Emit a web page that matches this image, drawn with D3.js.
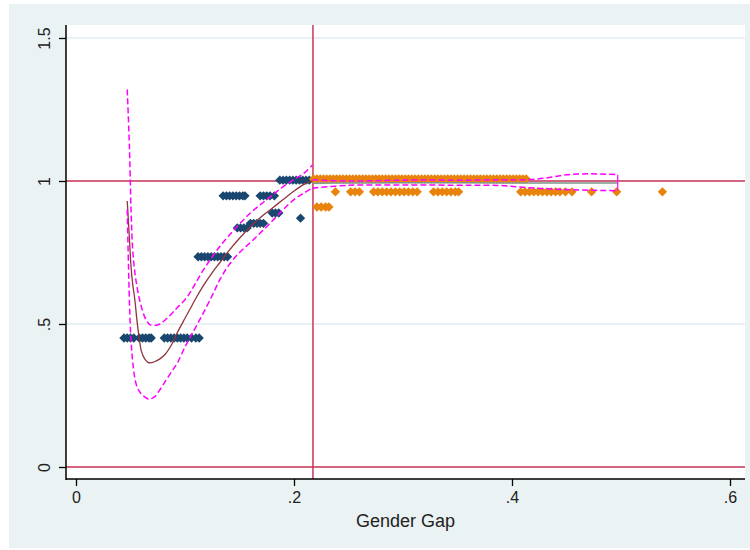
<!DOCTYPE html>
<html>
<head>
<meta charset="utf-8">
<script src="https://cdn.jsdelivr.net/npm/d3@7"></script>
<style>
  body { margin: 0; background: #fff; }
  text { font-family: "Liberation Sans", Arial, sans-serif; fill: #222; }
</style>
</head>
<body>
<svg id="chart"></svg>
<script>
// tick labels
const xTicks = [0, 0.2, 0.4, 0.6];
const xTickLabels = ["0", ".2", ".4", ".6"];
const yTicks = [0, 0.5, 1, 1.5];
const yTickLabels = ["0", ".5", "1", "1.5"];
const cutoff = 0.2174;

// navy points (below the cutoff)
const navyX = [0.044, 0.047, 0.050, 0.053, 0.058, 0.061, 0.064, 0.067, 0.069,
  0.081, 0.084, 0.087, 0.090, 0.093, 0.096, 0.099, 0.102, 0.106, 0.110, 0.113,
  0.112, 0.115, 0.118, 0.121, 0.124, 0.127, 0.130, 0.133, 0.136, 0.139,
  0.148, 0.151, 0.154, 0.157, 0.160, 0.163, 0.166, 0.169, 0.172,
  0.180, 0.183, 0.186,
  0.206,
  0.135, 0.138, 0.141, 0.144, 0.147, 0.150, 0.153, 0.155, 0.169, 0.172, 0.175, 0.178, 0.182,
  0.187, 0.190, 0.193, 0.196, 0.199, 0.202, 0.205, 0.208, 0.211, 0.214];
const navyY = [0.451, 0.451, 0.451, 0.451, 0.451, 0.451, 0.451, 0.451, 0.451,
  0.451, 0.451, 0.451, 0.451, 0.451, 0.451, 0.451, 0.451, 0.451, 0.451, 0.451,
  0.735, 0.735, 0.735, 0.735, 0.735, 0.735, 0.735, 0.735, 0.735, 0.735,
  0.836, 0.836, 0.836, 0.836, 0.852, 0.852, 0.852, 0.852, 0.852,
  0.888, 0.888, 0.888,
  0.870,
  0.948, 0.948, 0.948, 0.948, 0.948, 0.948, 0.948, 0.948, 0.948, 0.948, 0.948, 0.948, 0.948,
  1.003, 1.003, 1.003, 1.003, 1.003, 1.003, 1.003, 1.003, 1.003, 1.003];

// orange points (above the cutoff)
const orangeTopX = [0.218, 0.221, 0.224, 0.227, 0.230, 0.233, 0.236, 0.239, 0.242, 0.245, 0.248, 0.251, 0.254, 0.257,
  0.260, 0.263, 0.266, 0.269, 0.272, 0.275, 0.278, 0.281, 0.284, 0.287, 0.290, 0.293, 0.296, 0.299, 0.302, 0.305,
  0.308, 0.311, 0.314, 0.317, 0.320, 0.323, 0.326, 0.329, 0.332, 0.335, 0.338, 0.341, 0.344, 0.347, 0.350, 0.353,
  0.356, 0.359, 0.362, 0.365, 0.368, 0.371, 0.374, 0.377, 0.380, 0.383, 0.386, 0.389, 0.392, 0.395, 0.398, 0.401,
  0.404, 0.407, 0.410, 0.413];
const orangeTopY = 1.007;
const orangeMidX = [0.238, 0.252, 0.256, 0.260, 0.273, 0.277, 0.281, 0.285, 0.289, 0.293, 0.297, 0.301, 0.305, 0.309,
  0.313, 0.328, 0.332, 0.336, 0.340, 0.344, 0.348, 0.351, 0.408, 0.412, 0.416, 0.420, 0.424, 0.428, 0.432, 0.436,
  0.440, 0.444, 0.449, 0.455, 0.473, 0.496, 0.538];
const orangeMidY = 0.962;
const orangeLowX = [0.221, 0.225, 0.229, 0.232];
const orangeLowY = 0.909;

// local fit left of cutoff, with confidence band
const fitLX = [0.047, 0.049, 0.0505, 0.052, 0.054, 0.056, 0.058, 0.060, 0.063, 0.066, 0.068, 0.072, 0.077, 0.082, 0.088,
  0.093, 0.100, 0.105, 0.110, 0.117, 0.125, 0.132, 0.140, 0.150, 0.160, 0.170, 0.180, 0.190, 0.200, 0.210, 0.217];
const fitL = [0.93, 0.80, 0.70, 0.64, 0.584, 0.51, 0.45, 0.405, 0.378, 0.366, 0.364, 0.368, 0.378, 0.395, 0.43,
  0.47, 0.52, 0.555, 0.59, 0.635, 0.68, 0.715, 0.755, 0.80, 0.84, 0.875, 0.905, 0.935, 0.965, 0.99, 1.0];
const hiL = [1.32, 1.12, 0.90, 0.76, 0.68, 0.63, 0.59, 0.56, 0.525, 0.505, 0.497, 0.495, 0.50, 0.515, 0.537,
  0.558, 0.585, 0.612, 0.645, 0.69, 0.735, 0.772, 0.808, 0.85, 0.888, 0.92, 0.95, 0.98, 1.005, 1.03, 1.056];
const loL = [0.90, 0.58, 0.44, 0.37, 0.31, 0.28, 0.265, 0.255, 0.245, 0.238, 0.238, 0.245, 0.27, 0.30, 0.335,
  0.364, 0.42, 0.455, 0.49, 0.54, 0.60, 0.655, 0.705, 0.75, 0.785, 0.822, 0.86, 0.90, 0.935, 0.96, 0.976];

// local fit right of cutoff
const fitRX = [0.217, 0.25, 0.30, 0.36, 0.39, 0.41, 0.43, 0.45, 0.47, 0.497];
const fitR = [0.992, 0.993, 0.994, 0.994, 0.993, 0.993, 0.993, 0.993, 0.993, 0.993];
const hiR = [1.004, 1.0, 1.003, 1.003, 1.004, 1.004, 1.01, 1.022, 1.025, 1.022];
const loR = [0.975, 0.985, 0.986, 0.985, 0.984, 0.978, 0.973, 0.970, 0.968, 0.966];

const width = 750, height = 550;
const svg = d3.select("#chart").attr("width", width).attr("height", height);

// outer graph region
svg.append("rect").attr("x", 9).attr("y", 4).attr("width", width - 9).attr("height", 544).attr("fill", "#eaf2f3");

const x = d3.scaleLinear().domain([0, 0.6]).range([76, 730]);
const y = d3.scaleLinear().domain([0, 1.5]).range([467, 38]);
const plotL = 66, plotR = 745, plotT = 25, plotB = 479;

svg.append("rect").attr("x", plotL).attr("y", plotT).attr("width", plotR - plotL).attr("height", plotB - plotT).attr("fill", "#fff");

// grid lines
svg.selectAll(".grid").data(yTicks).enter().append("line")
  .attr("x1", plotL).attr("x2", plotR)
  .attr("y1", d => y(d)).attr("y2", d => y(d))
  .attr("stroke", "#e3edf0").attr("stroke-width", 1.5);

// reference lines
const red = "#cc3357";
svg.selectAll(".hline").data([0, 1]).enter().append("line")
  .attr("x1", plotL).attr("x2", plotR)
  .attr("y1", d => y(d)).attr("y2", d => y(d))
  .attr("stroke", red).attr("stroke-width", 1.5);
svg.append("line")
  .attr("x1", x(cutoff)).attr("x2", x(cutoff)).attr("y1", plotT).attr("y2", plotB)
  .attr("stroke", red).attr("stroke-width", 1.5);

// markers
const diamond = d3.symbol().type(d3.symbolDiamond2).size(56);
function drawPoints(xs, ys, color) {
  svg.append("g").selectAll("path").data(xs).enter().append("path")
    .attr("d", diamond)
    .attr("transform", (d, i) => "translate(" + x(d) + "," + y(Array.isArray(ys) ? ys[i] : ys) + ")")
    .attr("fill", color);
}
drawPoints(navyX, navyY, "#1a476f");
drawPoints(orangeTopX, orangeTopY, "#e8830c");
drawPoints(orangeMidX, orangeMidY, "#e8830c");
drawPoints(orangeLowX, orangeLowY, "#e8830c");

// fitted lines
const line = d3.line().x(d => x(d[0])).y(d => y(d[1])).curve(d3.curveCatmullRom);
function drawLine(xs, ys, color, dashed, w) {
  svg.append("path")
    .attr("d", line(xs.map((d, i) => [d, ys[i]])))
    .attr("fill", "none")
    .attr("stroke", color)
    .attr("stroke-width", w)
    .attr("stroke-dasharray", dashed ? "6,3" : null);
}
drawLine(fitLX, fitL, "#90353b", false, 1.3);
drawLine(fitLX, hiL, "#ff00ff", true, 1.5);
drawLine(fitLX, loL, "#ff00ff", true, 1.5);
drawLine(fitRX, fitR, "#7d978a", false, 1.5);
drawLine(fitRX, hiR, "#ff00ff", true, 1.5);
drawLine(fitRX, loR, "#ff00ff", true, 1.5);
drawLine([fitRX[fitRX.length - 1], fitRX[fitRX.length - 1]], [hiR[hiR.length - 1], loR[loR.length - 1]], "#ff00ff", false, 1.2);

// axes
const xAxis = svg.append("g").attr("transform", "translate(0," + plotB + ")")
  .call(d3.axisBottom(x).tickValues(xTicks).tickFormat((d, i) => xTickLabels[i]).tickSize(7).tickPadding(6));
const yAxis = svg.append("g").attr("transform", "translate(" + plotL + ",0)")
  .call(d3.axisLeft(y).tickValues(yTicks).tickFormat((d, i) => yTickLabels[i]).tickSize(7));
[xAxis, yAxis].forEach(a => {
  a.select(".domain").remove();
  a.selectAll(".tick line").attr("stroke", "#000").attr("stroke-width", 1.3);
  a.selectAll("text").style("font-family", "'Liberation Sans', Arial, sans-serif").style("font-size", "16px").attr("fill", "#222");
});
yAxis.selectAll(".tick text")
  .attr("x", null).attr("dy", null)
  .attr("text-anchor", "middle")
  .attr("transform", "translate(-16,0) rotate(-90)");

svg.append("line").attr("x1", plotL).attr("x2", plotL).attr("y1", plotT).attr("y2", plotB + 1).attr("stroke", "#000").attr("stroke-width", 1.5);
svg.append("line").attr("x1", plotL).attr("x2", plotR).attr("y1", plotB).attr("y2", plotB).attr("stroke", "#000").attr("stroke-width", 1.5);

svg.append("text")
  .attr("x", (plotL + plotR) / 2).attr("y", 527)
  .attr("text-anchor", "middle")
  .style("font-size", "18px")
  .text("Gender Gap");
</script>
</body>
</html>
